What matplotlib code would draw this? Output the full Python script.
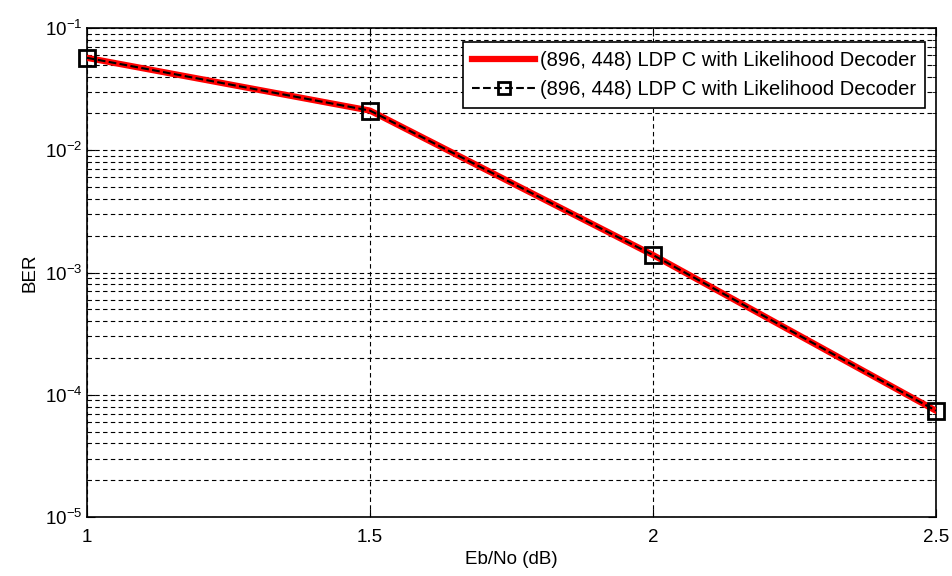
import matplotlib
matplotlib.use("Agg")
import matplotlib.pyplot as plt
from matplotlib.ticker import LogLocator, NullFormatter

plt.rcParams['font.family'] = ['Liberation Sans', 'DejaVu Sans']

ebno = [1.0, 1.5, 2.0, 2.5]
ber = [0.057, 0.0211, 0.00139, 7.4e-5]
label = "(896, 448) LDP C with Likelihood Decoder"
xticks = [1, 1.5, 2, 2.5]
xticklabels = ["1", "1.5", "2", "2.5"]

W, H = 953, 576
fig = plt.figure(figsize=(W / 100, H / 100), dpi=100)
ax = fig.add_axes([87 / W, 1 - 517 / H, (936 - 87) / W, (517 - 28) / H])

ax.semilogy(ebno, ber, color='red', linewidth=4.5, label=label, zorder=3)
ax.semilogy(ebno, ber, color='black', linestyle='--', linewidth=1.5,
            marker='s', markersize=11, markerfacecolor='none',
            markeredgecolor='black', markeredgewidth=2, label=label, zorder=4,
            clip_on=False)

ax.set_xlim(1, 2.5)
ax.set_ylim(1e-5, 1e-1)
ax.set_xticks(xticks)
ax.set_xticklabels(xticklabels)
ax.yaxis.set_major_locator(LogLocator(base=10, numticks=10))
ax.yaxis.set_minor_locator(LogLocator(base=10, subs=range(2, 10), numticks=20))
ax.yaxis.set_minor_formatter(NullFormatter())

ax.grid(True, which='major', axis='both', color='black', linestyle=(0, (4, 3)), linewidth=0.8)
ax.grid(True, which='minor', axis='y', color='black', linestyle=(0, (4, 3)), linewidth=0.8)
ax.tick_params(which='both', direction='in', top=True, right=True, labelsize=13.5)
ax.tick_params(which='major', length=6)
ax.tick_params(which='minor', length=3)
ax.tick_params(axis='x', which='major', pad=9)
for s in ax.spines.values():
    s.set_linewidth(1.2)

ax.set_xlabel("Eb/No (dB)", fontsize=13.5, labelpad=3)
ax.set_ylabel("BER", fontsize=13.5)

leg = ax.legend(loc='upper right', bbox_to_anchor=(925 / W, 1 - 42 / H),
                bbox_transform=fig.transFigure, borderaxespad=0,
                fontsize=14.5, fancybox=False, framealpha=1,
                edgecolor='black', handlelength=3.1, borderpad=0.45,
                labelspacing=0.5, handletextpad=0.25, markerscale=0.8)
leg.get_frame().set_linewidth(1.2)

fig.savefig("out.png", dpi=100)
